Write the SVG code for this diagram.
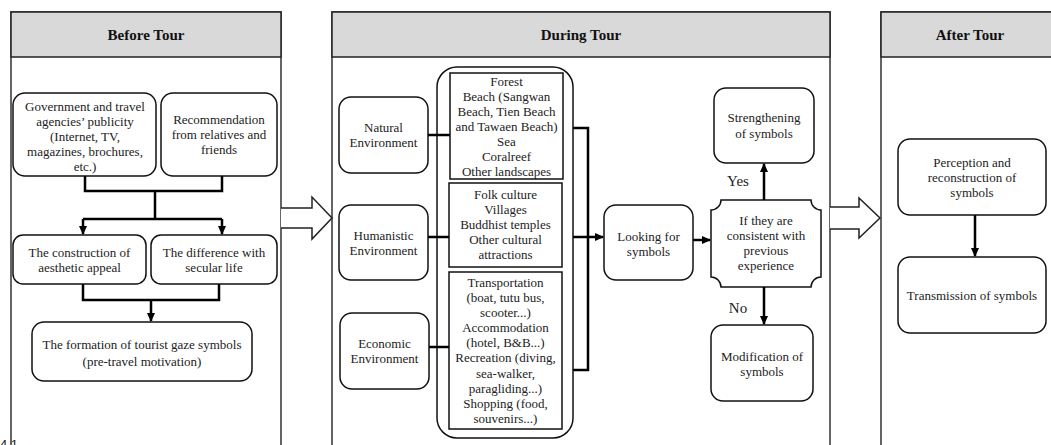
<svg xmlns="http://www.w3.org/2000/svg" width="1051" height="445" viewBox="0 0 1051 445">
<defs>
<marker id="ah" markerWidth="10" markerHeight="10" refX="8" refY="5" orient="auto" markerUnits="userSpaceOnUse">
<path d="M0,1 L9,5 L0,9 Z" fill="#000"/>
</marker>
<style>
.panel{fill:#fff;stroke:#333;stroke-width:1.5}
.head{fill:#d9d9d9;stroke:#222;stroke-width:1.5}
.ht{font-family:"Liberation Serif",serif;font-weight:bold;font-size:15px;text-anchor:middle;fill:#111}
.nd{fill:#fff;stroke:#111;stroke-width:1.5}
.t{font-family:"Liberation Serif",serif;font-size:13px;text-anchor:middle;fill:#222}
.lbl{font-family:"Liberation Serif",serif;font-size:15px;text-anchor:middle;fill:#222}
.c{fill:none;stroke:#000;stroke-width:2.5}
.ca{fill:none;stroke:#000;stroke-width:2.5;marker-end:url(#ah)}
.big{fill:#fff;stroke:#222;stroke-width:1.5}
</style>
</defs>

<g id="panel-before">
<rect class="panel" x="11" y="12" width="270" height="440"/>
<rect class="head" x="11" y="12" width="270" height="45"/>
<text class="ht" x="146" y="40">Before Tour</text>
</g>
<g id="panel-during">
<rect class="panel" x="332" y="12" width="498" height="440"/>
<rect class="head" x="332" y="12" width="498" height="45"/>
<text class="ht" x="581" y="40">During Tour</text>
</g>
<g id="panel-after">
<rect class="panel" x="881" y="12" width="180" height="440"/>
<rect class="head" x="881" y="12" width="180" height="45"/>
<text class="ht" x="970" y="40">After Tour</text>
</g>

<g id="big-arrows">
<path class="big" d="M281,208 H312 V197 L332,218 L312,239 V228 H281"/>
<path class="big" d="M830,207 H859 V198 L880,218 L859,238 V229 H830"/>
</g>

<g id="n-gov">
<rect class="nd" x="13" y="93" width="143" height="83" rx="12"/>
<text class="t"><tspan x="85" y="111">Government and travel</tspan><tspan x="85" y="126">agencies’ publicity</tspan><tspan x="85" y="141">(Internet, TV,</tspan><tspan x="85" y="156">magazines, brochures,</tspan><tspan x="85" y="171">etc.)</tspan></text>
</g>
<g id="n-rec">
<rect class="nd" x="161" y="93" width="116" height="83" rx="12"/>
<text class="t"><tspan x="219" y="124">Recommendation</tspan><tspan x="219" y="139">from relatives  and</tspan><tspan x="219" y="154">friends</tspan></text>
</g>
<g id="n-aes">
<rect class="nd" x="13" y="235" width="133" height="49" rx="10"/>
<text class="t"><tspan x="79.5" y="257">The construction of</tspan><tspan x="79.5" y="272">aesthetic appeal</tspan></text>
</g>
<g id="n-sec">
<rect class="nd" x="151" y="235" width="126" height="49" rx="10"/>
<text class="t"><tspan x="214" y="257">The difference with</tspan><tspan x="214" y="272">secular life</tspan></text>
</g>
<g id="n-form">
<rect class="nd" x="32" y="322" width="220" height="59" rx="12"/>
<text class="t"><tspan x="142" y="349">The formation of tourist gaze symbols</tspan><tspan x="142" y="366">(pre-travel motivation)</tspan></text>
</g>

<g id="n-nat">
<rect class="nd" x="339" y="97" width="89" height="76" rx="12"/>
<text class="t"><tspan x="383.5" y="132">Natural</tspan><tspan x="383.5" y="147">Environment</tspan></text>
</g>
<g id="n-hum">
<rect class="nd" x="339" y="205" width="89" height="75" rx="12"/>
<text class="t"><tspan x="383.5" y="240">Humanistic</tspan><tspan x="383.5" y="255">Environment</tspan></text>
</g>
<g id="n-eco">
<rect class="nd" x="340" y="313" width="89" height="76" rx="12"/>
<text class="t"><tspan x="384.5" y="348">Economic</tspan><tspan x="384.5" y="363">Environment</tspan></text>
</g>
<g id="n-container">
<rect class="nd" x="437" y="67" width="136" height="371" rx="20"/>
</g>
<g id="n-box1">
<rect class="nd" x="450" y="73" width="113" height="106"/>
<text class="t"><tspan x="506.5" y="86">Forest</tspan><tspan x="506.5" y="101">Beach (Sangwan</tspan><tspan x="506.5" y="116">Beach, Tien Beach</tspan><tspan x="506.5" y="131">and Tawaen Beach)</tspan><tspan x="506.5" y="146">Sea</tspan><tspan x="506.5" y="161">Coralreef</tspan><tspan x="506.5" y="176">Other landscapes</tspan></text>
</g>
<g id="n-box2">
<rect class="nd" x="449" y="183" width="113" height="84"/>
<text class="t"><tspan x="505.5" y="199">Folk culture</tspan><tspan x="505.5" y="214">Villages</tspan><tspan x="505.5" y="229">Buddhist temples</tspan><tspan x="505.5" y="244">Other cultural</tspan><tspan x="505.5" y="259">attractions</tspan></text>
</g>
<g id="n-box3">
<rect class="nd" x="449" y="272" width="113" height="157"/>
<text class="t"><tspan x="505.5" y="287">Transportation</tspan><tspan x="505.5" y="302">(boat, tutu bus,</tspan><tspan x="505.5" y="317">scooter...)</tspan><tspan x="505.5" y="332">Accommodation</tspan><tspan x="505.5" y="347">(hotel, B&amp;B...)</tspan><tspan x="505.5" y="362">Recreation (diving,</tspan><tspan x="505.5" y="378">sea-walker,</tspan><tspan x="505.5" y="393">paragliding...)</tspan><tspan x="505.5" y="408">Shopping (food,</tspan><tspan x="505.5" y="423">souvenirs...)</tspan></text>
</g>
<g id="n-look">
<rect class="nd" x="604" y="205" width="89" height="75" rx="12"/>
<text class="t"><tspan x="648.5" y="241">Looking for</tspan><tspan x="648.5" y="256">symbols</tspan></text>
</g>
<g id="n-if">
<path class="nd" d="M721,200 H811 A10,10 0 0 0 821,210 V277 A10,10 0 0 0 811,287 H721 A10,10 0 0 0 711,277 V210 A10,10 0 0 0 721,200 Z"/>
<text class="t"><tspan x="766" y="225">If they are</tspan><tspan x="766" y="240">consistent with</tspan><tspan x="766" y="255">previous</tspan><tspan x="766" y="270">experience</tspan></text>
</g>
<g id="n-str">
<rect class="nd" x="714" y="88" width="100" height="75" rx="12"/>
<text class="t"><tspan x="764" y="122">Strengthening</tspan><tspan x="764" y="138">of symbols</tspan></text>
</g>
<g id="n-mod">
<rect class="nd" x="711" y="325" width="102" height="76" rx="12"/>
<text class="t"><tspan x="762" y="361">Modification of</tspan><tspan x="762" y="376">symbols</tspan></text>
</g>

<g id="n-per">
<rect class="nd" x="898" y="139" width="148" height="76" rx="12"/>
<text class="t"><tspan x="972" y="167">Perception and</tspan><tspan x="972" y="182">reconstruction of</tspan><tspan x="972" y="197">symbols</tspan></text>
</g>
<g id="n-trans">
<rect class="nd" x="898" y="257" width="148" height="76" rx="12"/>
<text class="t"><tspan x="972" y="300">Transmission of symbols</tspan></text>
</g>

<g id="connectors">
<path class="c" d="M85,176 V191 H222 V176"/>
<path class="c" d="M155,191 V219"/>
<path class="c" d="M83,219 H222"/>
<path class="ca" d="M83,219 V234"/>
<path class="ca" d="M222,219 V234"/>
<path class="c" d="M83,284 V300 H219 V284"/>
<path class="ca" d="M151,300 V321"/>
<path class="c" d="M428,135 H450"/>
<path class="c" d="M428,237 H449"/>
<path class="c" d="M429,347 H449"/>
<path class="c" d="M573,128 H588 V370 H573"/>
<path class="ca" d="M573,237 H603"/>
<path class="ca" d="M693,240 H710"/>
<path class="ca" d="M764,200 V164"/>
<path class="ca" d="M764,287 V324"/>
<path class="ca" d="M975,215 V256"/>
<text class="lbl" x="738" y="186">Yes</text>
<text class="lbl" x="738" y="313">No</text>
</g>

<text x="0" y="449" font-family="Liberation Sans, sans-serif" font-size="13" fill="#222">4.1</text>
</svg>
